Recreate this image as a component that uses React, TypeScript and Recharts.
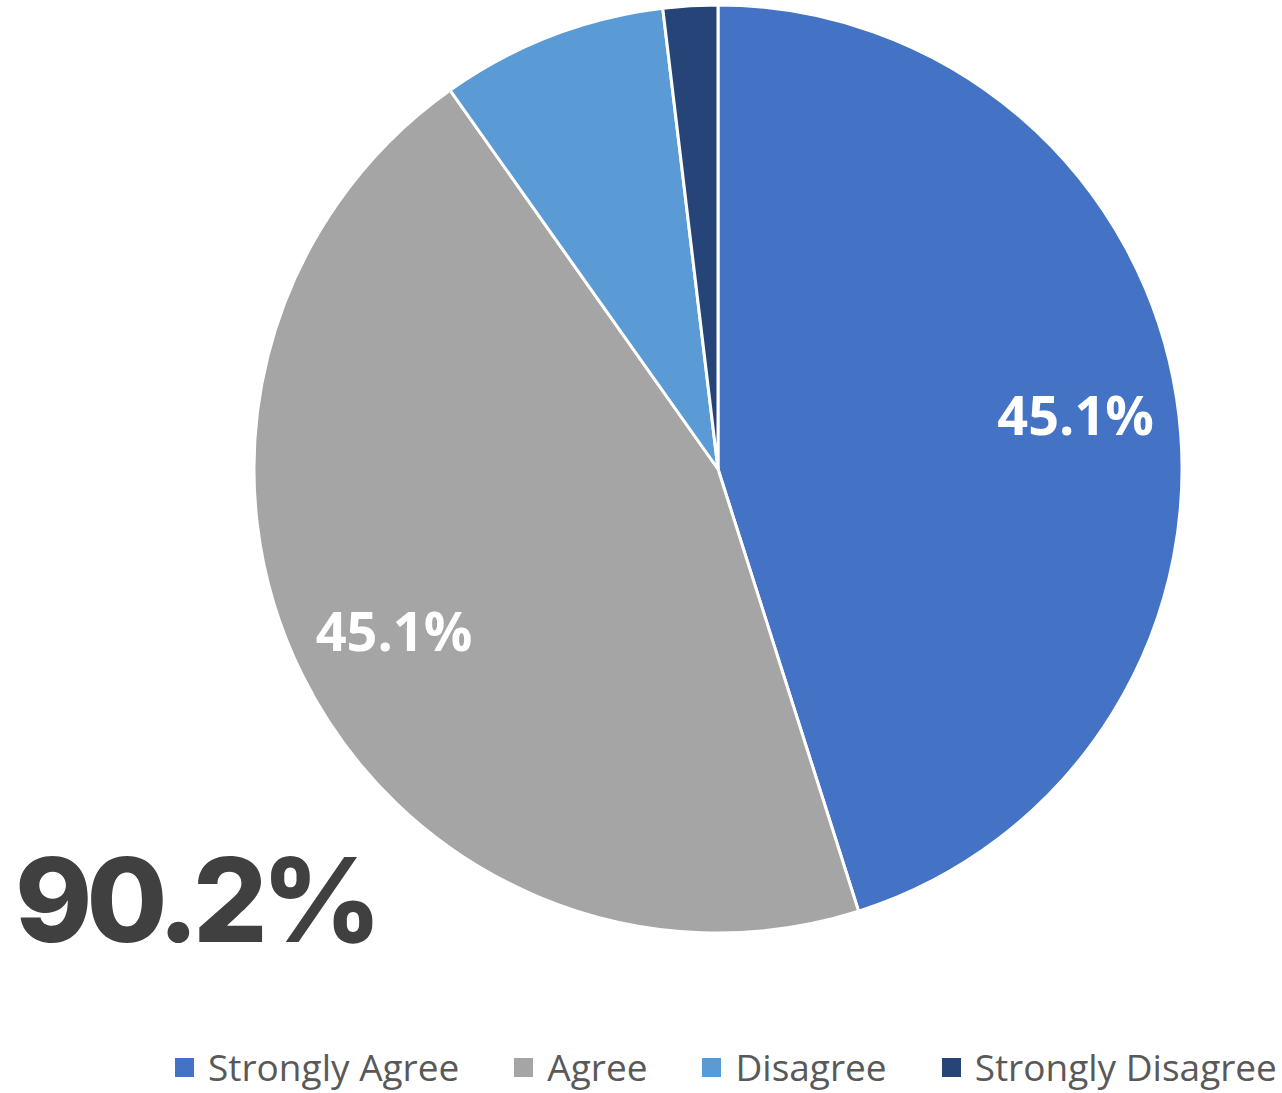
import { PieChart, Pie, Cell, Legend } from 'recharts';

// share of responses per answer, in percent
const categories = ['Strongly Agree', 'Agree', 'Disagree', 'Strongly Disagree'];
const shares = [45.1, 45.1, 7.9, 1.9];
const colors = ['#4472C4', '#A5A5A5', '#5B9BD5', '#264478'];
const headline = '90.2%';

const data = categories.map((name, i) => ({ name, value: shares[i] }));

const RAD = Math.PI / 180;

function renderLabel(props: any) {
  const { cx, cy, midAngle, outerRadius, value } = props;
  if (value < 10) return null;
  const r = outerRadius * 0.78;
  const x = cx + r * Math.cos(-midAngle * RAD);
  const y = cy + r * Math.sin(-midAngle * RAD);
  return (
    <text
      x={x}
      y={y}
      fill="#ffffff"
      textAnchor="middle"
      dominantBaseline="central"
      style={{ fontFamily: '"Open Sans", sans-serif', fontWeight: 700, fontSize: 54 }}
    >
      {value.toFixed(1)}%
    </text>
  );
}

// keep the legend in the data order (the default payload gets sorted by name)
function LegendContent() {
  return (
    <div style={{ display: 'flex', alignItems: 'center', gap: 55, whiteSpace: 'nowrap' }}>
      {categories.map((c, i) => (
        <div key={c} style={{ display: 'flex', alignItems: 'center', gap: 14 }}>
          <span style={{ width: 19, height: 19, background: colors[i], display: 'inline-block' }} />
          <span style={{ fontFamily: '"Open Sans", sans-serif', fontSize: 37, color: '#595959', lineHeight: '46px' }}>
            {c}
          </span>
        </div>
      ))}
    </div>
  );
}

export default function App() {
  return (
    <div style={{ position: 'absolute', left: 0, top: 0, width: 1282, height: 1093, background: '#fff' }}>
      <PieChart width={1282} height={1093} margin={{ top: 0, right: 0, bottom: 0, left: 0 }}>
        <Pie
          data={data}
          dataKey="value"
          nameKey="name"
          cx={718}
          cy={469}
          outerRadius={464}
          startAngle={90}
          endAngle={-270}
          stroke="#ffffff"
          strokeWidth={3}
          label={renderLabel}
          labelLine={false}
          isAnimationActive={false}
        >
          {data.map((d, i) => (
            <Cell key={d.name} fill={colors[i]} />
          ))}
        </Pie>
        <Legend
          content={<LegendContent />}
          wrapperStyle={{ left: 175, top: 1044, width: 1107, height: 46 }}
        />
      </PieChart>
      <div
        style={{
          position: 'absolute',
          left: 15,
          top: 830,
          fontFamily: 'Inter, sans-serif',
          fontWeight: 800,
          fontSize: 117,
          color: '#404040',
          lineHeight: '140px',
          letterSpacing: -6,
        }}
      >
        {headline}
      </div>
    </div>
  );
}
